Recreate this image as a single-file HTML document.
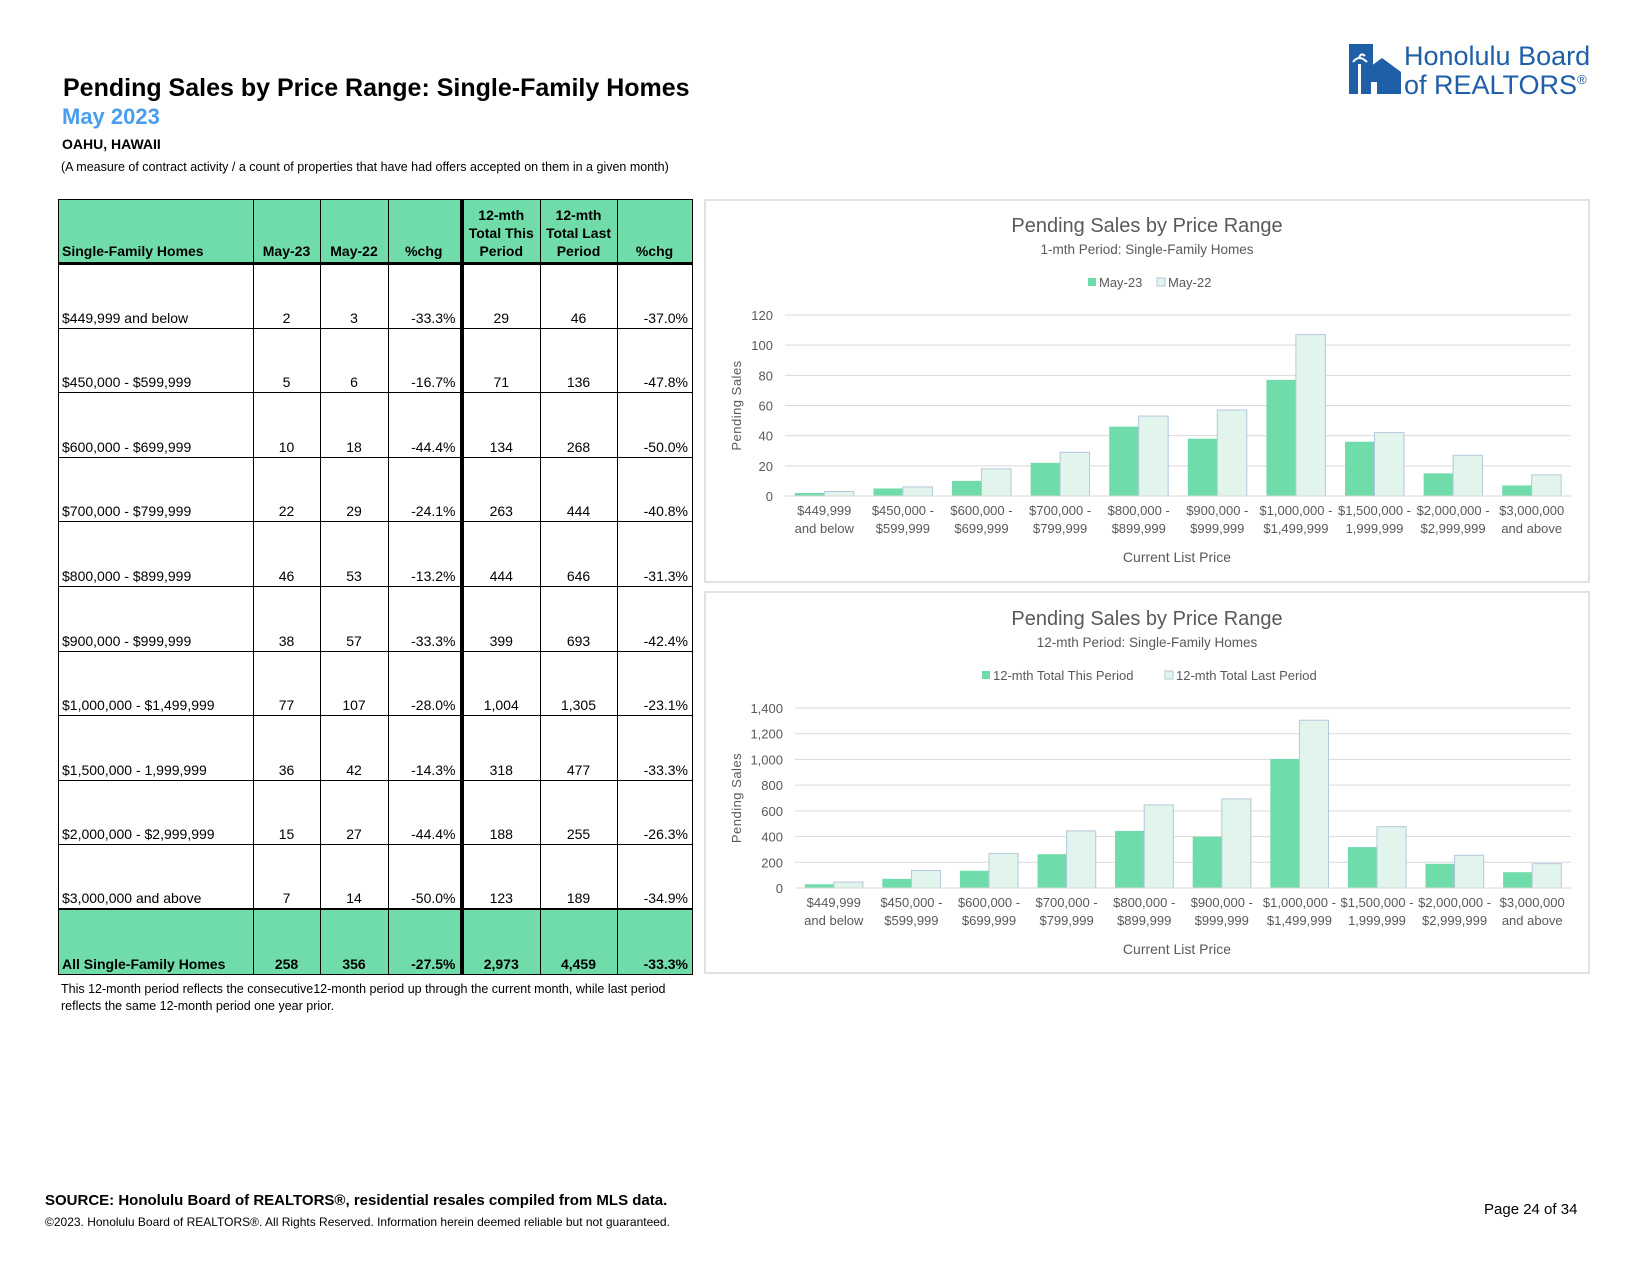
<!DOCTYPE html>
<html><head><meta charset="utf-8">
<style>
body{margin:0;width:1650px;height:1275px;background:#fff;position:relative;font-family:"Liberation Sans",Arial,sans-serif;overflow:hidden}
.abs{position:absolute}
table{border-collapse:collapse;position:absolute;left:58px;top:199px;font-size:14px}
td{border:1px solid #000;height:64.6px;padding:0 4px 2px 3px;vertical-align:bottom;text-align:right;box-sizing:border-box}
td:first-child{text-align:left}
td.c{text-align:center}
tr.h td{background:#70DCAA;font-weight:bold;text-align:center;height:64px;border-bottom:3px solid #000;line-height:18px}
tr.h td:first-child{text-align:left}
tr.t td{background:#70DCAA;font-weight:bold;border-top:2px solid #000}
td.th{border-left:4px solid #000}
.chartbox{position:absolute;border:2px solid #e2e2e2;background:#fff;box-sizing:border-box}
</style></head><body>
<div class="abs" style="left:63px;top:74px;font-size:25px;font-weight:bold">Pending Sales by Price Range: Single-Family Homes</div>
<div class="abs" style="left:62px;top:104px;font-size:22px;font-weight:bold;color:#4A9EF0">May 2023</div>
<div class="abs" style="left:62px;top:136px;font-size:14px;font-weight:bold">OAHU, HAWAII</div>
<div class="abs" style="left:61px;top:160px;font-size:12.5px">(A measure of contract activity / a count of properties that have had offers accepted on them in a given month)</div>

<div class="abs" style="left:1349px;top:44px;width:270px;height:52px">
<svg width="60" height="52"><rect x="0" y="0" width="24" height="50" fill="#1f5fa8"/><polygon points="14,28 33,14 52,28 52,50 14,50" fill="#1f5fa8"/><rect x="22" y="38" width="6" height="12" fill="#fff"/><rect x="9" y="20" width="3" height="30" fill="#fff"/><path d="M4,18 Q10,10 18,18 M10,14 Q12,8 16,12" stroke="#fff" stroke-width="2" fill="none"/></svg>
<div class="abs" style="left:55px;top:0px;font-size:27px;color:#1f5fa8;line-height:24px;white-space:nowrap">Honolulu Board<br>of REALTORS<sup style="font-size:13px">®</sup></div>
</div>

<table>
<colgroup><col style="width:195px"><col style="width:67px"><col style="width:68px"><col style="width:73px"><col style="width:79px"><col style="width:77px"><col style="width:75px"></colgroup>
<tr class="h"><td>Single-Family Homes</td><td>May-23</td><td>May-22</td><td>%chg</td><td class="th">12-mth Total This Period</td><td>12-mth Total Last Period</td><td>%chg</td></tr>
<tr><td>$449,999 and below</td><td class="c">2</td><td class="c">3</td><td>-33.3%</td><td class="th c">29</td><td class="c">46</td><td>-37.0%</td></tr>
<tr><td>$450,000 - $599,999</td><td class="c">5</td><td class="c">6</td><td>-16.7%</td><td class="th c">71</td><td class="c">136</td><td>-47.8%</td></tr>
<tr><td>$600,000 - $699,999</td><td class="c">10</td><td class="c">18</td><td>-44.4%</td><td class="th c">134</td><td class="c">268</td><td>-50.0%</td></tr>
<tr><td>$700,000 - $799,999</td><td class="c">22</td><td class="c">29</td><td>-24.1%</td><td class="th c">263</td><td class="c">444</td><td>-40.8%</td></tr>
<tr><td>$800,000 - $899,999</td><td class="c">46</td><td class="c">53</td><td>-13.2%</td><td class="th c">444</td><td class="c">646</td><td>-31.3%</td></tr>
<tr><td>$900,000 - $999,999</td><td class="c">38</td><td class="c">57</td><td>-33.3%</td><td class="th c">399</td><td class="c">693</td><td>-42.4%</td></tr>
<tr><td>$1,000,000 - $1,499,999</td><td class="c">77</td><td class="c">107</td><td>-28.0%</td><td class="th c">1,004</td><td class="c">1,305</td><td>-23.1%</td></tr>
<tr><td>$1,500,000 - 1,999,999</td><td class="c">36</td><td class="c">42</td><td>-14.3%</td><td class="th c">318</td><td class="c">477</td><td>-33.3%</td></tr>
<tr><td>$2,000,000 - $2,999,999</td><td class="c">15</td><td class="c">27</td><td>-44.4%</td><td class="th c">188</td><td class="c">255</td><td>-26.3%</td></tr>
<tr><td>$3,000,000 and above</td><td class="c">7</td><td class="c">14</td><td>-50.0%</td><td class="th c">123</td><td class="c">189</td><td>-34.9%</td></tr>
<tr class="t"><td>All Single-Family Homes</td><td class="c">258</td><td class="c">356</td><td>-27.5%</td><td class="th c">2,973</td><td class="c">4,459</td><td>-33.3%</td></tr>
</table>
<div class="abs" style="left:61px;top:981px;font-size:12.5px;line-height:17px;width:635px">This 12-month period reflects the consecutive12-month period up through the current month, while last period reflects the same 12-month period one year prior.</div>

<div class="chartbox" style="left:704px;top:199px;width:886px;height:384px"></div>
<div class="chartbox" style="left:704px;top:591px;width:886px;height:383px"></div>
<svg id="charts" class="abs" style="left:0;top:0" width="1650" height="1275" font-family="'Liberation Sans Narrow','Liberation Sans',sans-serif"></svg>

<div class="abs" style="left:45px;top:1192px;font-size:15px;font-weight:bold">SOURCE: Honolulu Board of REALTORS®, residential resales compiled from MLS data.</div>
<div class="abs" style="left:45px;top:1215px;font-size:12px">©2023. Honolulu Board of REALTORS®. All Rights Reserved. Information herein deemed reliable but not guaranteed.</div>
<div class="abs" style="left:1484px;top:1201px;font-size:15px">Page 24 of 34</div>

<script>
const categories1 = ["$449,999|and below","$450,000 -|$599,999","$600,000 -|$699,999","$700,000 -|$799,999","$800,000 -|$899,999","$900,000 -|$999,999","$1,000,000 -|$1,499,999","$1,500,000 -|1,999,999","$2,000,000 -|$2,999,999","$3,000,000|and above"];
const may23 = [2,5,10,22,46,38,77,36,15,7];
const may22 = [3,6,18,29,53,57,107,42,27,14];
const ticks1 = [0,20,40,60,80,100,120];
const total12This = [29,71,134,263,444,399,1004,318,188,123];
const total12Last = [46,136,268,444,646,693,1305,477,255,189];
const ticks2 = [0,200,400,600,800,1000,1200,1400];
const ticks2Labels = ["0","200","400","600","800","1,000","1,200","1,400"];
const legend1 = ["May-23","May-22"];
const legend2 = ["12-mth Total This Period","12-mth Total Last Period"];

const svg = document.getElementById('charts');
const NS = 'http://www.w3.org/2000/svg';
function mk(tag, attrs, text){
  const e = document.createElementNS(NS, tag);
  for (const k in attrs) e.setAttribute(k, attrs[k]);
  if (text !== undefined) e.textContent = text;
  svg.appendChild(e); return e;
}
function drawChart(o){
  const yScale = v => o.y0 - (v / o.max) * (o.y0 - o.yTop);
  const band = (o.x1 - o.x0) / o.cats.length;
  const bw = band * 0.375;
  o.ticks.forEach((t,i) => {
    const gl = mk('line',{x1:o.x0,x2:o.x1,y1:yScale(t),y2:yScale(t),stroke:'#d9d9d9','stroke-width':1});
    
    
    const tl = mk('text',{x:o.x0-12,y:yScale(t)+5,'text-anchor':'end','font-size':13,fill:'#595959'}, o.tickLabels[i]);
    
    
  });
  o.cats.forEach((c,i) => {
    const cx = o.x0 + band*(i+0.5);
    const b1 = mk('rect',{x:cx-bw,y:yScale(o.s1[i]),width:bw,height:o.y0-yScale(o.s1[i]),fill:'#70DCAA'});
    
    
    const b2 = mk('rect',{x:cx,y:yScale(o.s2[i]),width:bw,height:o.y0-yScale(o.s2[i]),fill:'#E2F5EC',stroke:'#b4c7dc','stroke-width':1});
    
    
    const p = c.split('|');
    const l1 = mk('text',{x:cx,y:o.lab1,'text-anchor':'middle','font-size':13,fill:'#595959'}, p[0]);
    
    
    const l2 = mk('text',{x:cx,y:o.lab1+18,'text-anchor':'middle','font-size':13,fill:'#595959'}, p[1]);
    
    
  });
  const ax = mk('line',{x1:o.x0,x2:o.x1,y1:o.y0,y2:o.y0,stroke:'#d9d9d9','stroke-width':1});
  
  
  const t = mk('text',{x:1147,y:o.titleY,'text-anchor':'middle','font-size':20,fill:'#595959'},'Pending Sales by Price Range');
  
  
  const st = mk('text',{x:1147,y:o.titleY+22,'text-anchor':'middle','font-size':13.5,fill:'#595959'},o.sub);
  
  
  const xt = mk('text',{x:1177,y:o.lab1+47,'text-anchor':'middle','font-size':14,fill:'#595959'},'Current List Price');
  
  
  const ymid = (o.y0+o.yTop)/2;
  const yt = mk('text',{x:0,y:0,transform:`translate(741,${ymid}) rotate(-90)`,'text-anchor':'middle','font-size':13,fill:'#595959','letter-spacing':'0.5'},'Pending Sales');
  
  
  const lx = o.legX;
  const s1 = mk('rect',{x:lx,y:o.legY-10,width:8,height:8,fill:'#70DCAA'});
  
  
  const lt1 = mk('text',{x:lx+11,y:o.legY-1,'font-size':13,fill:'#595959'},o.leg[0]);
  
  
  const s2 = mk('rect',{x:o.legX2,y:o.legY-10,width:8,height:8,fill:'#E2F5EC',stroke:'#b4c7dc'});
  
  
  const lt2 = mk('text',{x:o.legX2+11,y:o.legY-1,'font-size':13,fill:'#595959'},o.leg[1]);
  
  
}
drawChart({cats:categories1,s1:may23,s2:may22,ticks:ticks1,tickLabels:ticks1.map(String),max:120,
  x0:785,x1:1571,y0:496,yTop:315,lab1:515,titleY:232,sub:'1-mth Period: Single-Family Homes',
  leg:legend1,legX:1088,legX2:1157,legY:288});
drawChart({cats:categories1,s1:total12This,s2:total12Last,ticks:ticks2,tickLabels:ticks2Labels,max:1400,
  x0:795,x1:1571,y0:888,yTop:708,lab1:907,titleY:625,sub:'12-mth Period: Single-Family Homes',
  leg:legend2,legX:982,legX2:1165,legY:681});
</script>
</body></html>
